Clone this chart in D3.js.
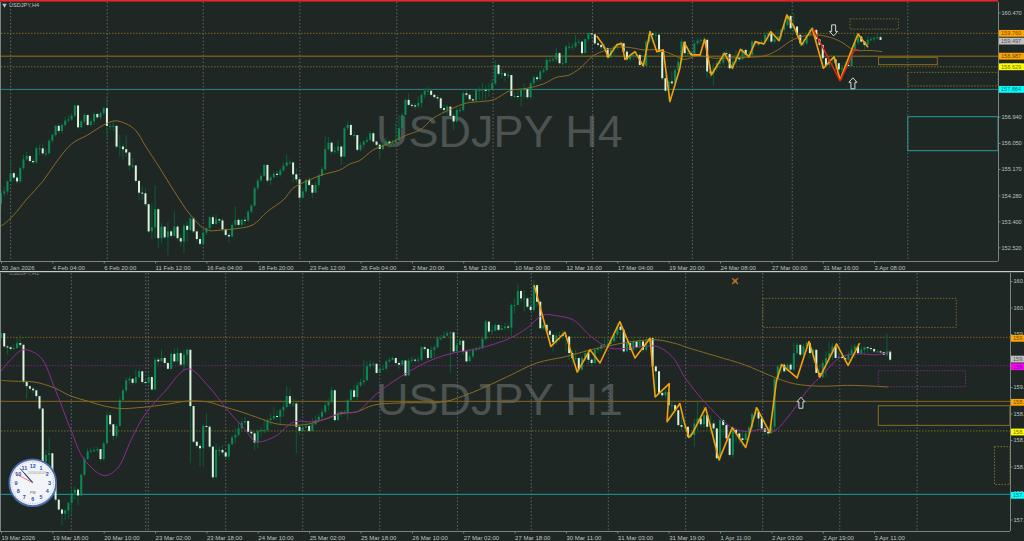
<!DOCTYPE html>
<html><head><meta charset="utf-8">
<script src="https://cdn.jsdelivr.net/npm/d3@7/dist/d3.min.js"></script>
<style>html,body{margin:0;padding:0;background:#1f2725;overflow:hidden}svg{display:block}text{font-family:"Liberation Sans",Arial,sans-serif}</style>
</head><body><svg id="c" width="1024" height="541"></svg>
<script>
// ---------- H4 panel ----------
const h4Open0 = 154.0;
const h4Close = [154.35,154.41,154.75,155.03,154.88,154.75,155.20,155.50,155.61,155.44,155.40,155.87,155.87,155.70,155.70,156.13,156.32,156.63,156.46,156.66,156.81,156.85,156.97,157.32,156.58,156.78,157.00,156.66,156.78,157.03,156.92,157.06,157.23,156.63,156.63,156.63,155.93,155.93,155.84,155.73,155.29,155.29,154.77,154.37,154.35,153.98,153.06,153.20,153.81,152.83,153.22,152.86,153.06,152.91,153.22,152.83,152.72,153.25,153.11,153.50,153.06,152.80,152.64,153.02,153.17,153.54,153.31,153.47,153.43,153.13,152.94,152.89,153.28,153.45,153.28,153.45,153.43,153.73,153.93,154.52,154.78,154.94,155.31,154.78,154.89,155.01,154.97,155.12,155.28,155.39,155.39,154.99,154.82,154.20,154.41,154.80,154.63,154.37,154.63,154.95,155.16,155.84,156.06,155.76,155.79,155.93,155.59,156.55,156.66,156.32,156.32,155.82,155.99,156.10,156.15,156.38,156.10,155.99,155.85,155.99,156.10,156.04,156.06,156.15,156.55,157.00,157.51,157.34,157.32,157.30,157.40,157.68,157.82,157.82,157.68,157.60,157.56,157.23,157.17,157.28,156.97,156.78,157.17,157.17,157.73,157.68,157.53,157.49,157.85,157.85,157.85,157.82,157.87,158.07,158.69,158.39,158.41,158.32,158.35,157.64,157.64,157.62,157.85,157.87,157.60,158.07,158.27,158.21,158.47,158.52,158.86,158.86,158.88,159.09,158.75,158.75,159.31,159.31,159.31,159.45,159.48,159.09,159.56,159.76,159.73,159.42,159.37,159.29,159.26,158.95,159.20,159.31,159.37,159.42,159.14,158.88,159.03,159.03,159.03,158.69,158.66,159.48,159.76,159.71,159.71,159.14,158.24,157.82,158.13,158.07,158.52,158.80,159.48,159.09,159.09,159.03,159.42,159.51,159.54,159.54,158.47,158.41,158.58,158.75,158.77,159.09,159.06,158.58,158.80,158.95,158.88,159.20,159.03,159.03,159.48,159.42,159.40,159.48,159.71,159.76,159.48,159.56,159.65,159.88,160.04,160.35,159.93,159.99,159.71,159.42,159.42,159.71,159.88,159.88,159.56,159.37,158.92,158.69,158.86,158.88,158.75,158.54,158.58,158.69,158.66,159.20,159.45,159.65,159.48,159.37,159.54,159.56,159.60,159.63,159.54];
const h4High = [154.46,154.58,154.80,155.48,155.08,154.97,155.25,155.68,155.76,155.65,155.50,155.93,155.99,156.04,155.87,156.18,156.38,156.66,156.70,156.72,156.94,157.00,157.06,157.34,157.34,156.83,157.06,156.94,156.89,157.08,157.08,157.11,157.26,157.54,156.74,156.78,156.63,156.32,156.04,156.32,155.76,155.54,155.29,154.80,154.58,154.52,154.01,154.01,154.63,153.84,153.34,153.22,153.39,153.11,153.73,153.28,152.94,153.34,153.39,153.56,153.56,153.11,152.89,153.11,153.22,153.58,153.62,153.62,153.50,153.50,153.17,153.00,153.34,153.90,153.50,153.50,153.56,153.79,153.99,154.58,154.86,155.01,155.34,155.31,154.97,155.08,155.12,155.20,155.39,155.65,155.50,155.42,155.20,154.86,154.52,154.86,154.91,154.69,154.75,155.01,155.25,156.29,156.25,156.10,155.93,156.15,155.93,156.61,156.78,156.70,156.44,156.32,156.10,156.15,156.27,156.44,156.44,156.04,156.04,156.10,156.21,156.15,156.15,156.72,157.00,157.06,157.56,157.73,157.40,157.40,157.62,157.73,157.90,157.96,157.90,157.73,157.68,157.62,157.34,157.34,157.30,157.06,157.23,157.26,157.79,157.85,157.73,157.56,157.90,157.94,158.07,157.98,158.07,158.24,158.86,158.72,158.58,158.47,158.47,158.35,157.76,157.85,157.90,158.07,157.90,158.13,158.32,158.35,158.52,158.58,158.92,158.97,159.03,159.26,159.14,159.03,159.37,159.45,159.42,159.71,159.56,159.51,159.59,159.79,159.76,159.54,159.48,159.42,159.42,159.31,159.26,159.37,159.45,159.48,159.45,159.20,159.09,159.14,159.14,159.09,158.86,159.54,159.85,159.82,159.82,159.76,159.20,158.35,158.18,158.47,158.58,158.92,159.59,159.48,159.20,159.22,159.54,159.59,159.59,159.63,159.59,158.69,158.75,158.86,158.97,159.14,159.20,159.14,158.88,159.20,159.03,159.26,159.22,159.20,159.54,159.51,159.48,159.54,159.82,159.85,159.76,159.65,159.88,159.93,160.16,160.42,160.38,160.44,159.99,159.76,159.59,159.76,159.97,159.99,159.88,159.59,159.37,158.97,158.95,159.03,159.03,158.75,158.69,158.80,158.86,159.26,159.71,159.76,159.67,159.51,159.65,159.65,159.67,159.76,159.71];
const h4Low = [153.79,154.24,154.30,154.75,154.75,154.67,154.69,155.14,155.46,155.37,155.34,155.34,155.65,155.61,155.59,155.65,156.04,156.27,156.40,156.38,156.61,156.74,156.81,156.92,156.53,156.55,156.70,156.61,156.61,156.66,156.85,156.85,157.00,156.21,156.49,156.44,155.87,155.59,155.48,155.59,155.14,155.20,154.71,154.13,154.13,153.90,153.00,152.80,152.83,152.49,152.66,152.80,152.26,152.83,152.86,152.75,152.55,152.32,152.72,153.06,153.00,152.72,152.57,152.57,152.94,153.11,153.25,153.28,153.34,153.06,152.86,152.68,152.86,153.22,153.22,153.25,153.28,153.39,153.67,153.90,154.46,154.75,154.91,154.71,154.63,154.86,154.91,154.91,155.08,155.25,155.31,154.71,154.69,154.01,154.18,154.35,154.58,154.18,154.35,154.55,154.91,155.12,155.79,155.68,155.68,155.70,155.31,155.59,156.49,156.27,156.21,155.76,155.76,155.87,156.04,156.10,156.04,155.93,155.50,155.82,155.93,155.87,155.93,155.93,156.10,156.49,157.00,157.30,157.23,157.19,157.23,157.23,157.56,157.68,157.62,157.53,157.45,157.17,157.06,157.00,156.92,156.47,156.72,157.08,157.11,157.60,157.45,157.40,157.45,157.51,157.51,157.51,157.62,157.87,158.01,158.32,158.24,158.13,158.24,157.56,157.56,157.51,157.28,157.56,157.53,157.53,158.01,158.13,158.16,158.41,158.47,158.75,158.80,158.80,158.69,158.69,158.75,159.20,159.20,159.26,159.37,159.03,159.09,159.48,159.59,159.37,159.31,159.20,159.14,158.88,158.92,158.97,159.20,159.31,159.09,158.80,158.80,158.86,158.92,158.63,158.63,158.63,159.42,159.42,159.48,159.03,158.18,157.76,157.45,158.01,158.01,158.47,158.75,159.03,158.97,158.97,159.03,159.37,159.42,159.42,158.24,158.24,158.01,158.47,158.58,158.69,158.92,158.52,158.52,158.69,158.80,158.86,158.97,158.95,158.97,159.31,159.31,159.37,159.42,159.48,159.42,159.42,159.48,159.48,159.82,159.99,159.88,159.76,159.65,159.31,159.31,159.37,159.65,159.76,159.48,159.31,158.58,158.58,158.63,158.63,158.47,158.32,158.18,158.47,158.58,158.63,159.14,159.37,159.42,159.22,159.31,159.48,159.48,159.54,159.52];
const h4MaIdx = [0,1,4,8,13,17,22,27,32,35.5,39,42,45,49.5,54,59,64,69,74.5,78.5,83,88,91,95,100,105.6,108.7,111.8,116,121,126.4,130.5,134.7,140,145,149,153.4,158.6,163.8,169,173,177,180.4,184.5,188.7,192,196,200,205,209.5,212.8,217,222,225,232.5,238,242,247,253,257.4,261.6,265.7,271,274.5];
const h4MaVal = [153.25,153.31,153.62,154.15,154.75,155.37,156.02,156.32,156.66,156.80,156.70,156.47,155.95,155.20,154.41,153.62,153.11,153.11,153.17,153.28,153.73,154.13,154.52,154.75,154.97,155.14,155.34,155.46,155.82,156.04,156.32,156.49,156.89,157.19,157.40,157.45,157.51,157.82,157.90,158.05,158.27,158.35,158.58,159.00,159.20,159.29,159.28,159.20,159.20,159.03,158.88,159.00,158.92,158.92,158.95,159.00,159.20,159.56,159.71,159.65,159.48,159.20,159.18,159.14];
const h4ZigIdx = [185.6,187.6,189.2,191.8,193.4,194.4,197.5,200.1,202.2,204.3,206.3,208.4,211.5,212.8,215,217.8,219.2,221.3,225.4,227.8,230.4,233,235,237.7,239.8,242.4,244.8,247,249.4,252.7,256.2,259.5,261.4,265.2,267,270.1];
const h4ZigVal = [159.67,159.37,158.95,159.37,159.42,158.88,159.14,158.66,159.82,159.14,159.20,157.45,158.58,159.45,159.03,159.03,159.56,158.35,159.09,158.58,159.22,158.97,159.48,159.40,159.82,159.51,160.38,159.99,159.37,159.93,158.58,158.97,158.18,159.26,159.74,159.29];
const h4RedIdx = [253,256.4,261.4,264.2,265.8,267];
const h4RedVal = [159.90,159.20,158.15,158.80,159.20,159.20];
const h4Seps = [3,33.1,63,93.1,123.3,153.3,184.3,215.4,246.5,282.5];
const h4Dates = ["30 Jan 2026","4 Feb 04:00","6 Feb 20:00","11 Feb 12:00","16 Feb 04:00","18 Feb 20:00","23 Feb 12:00","26 Feb 04:00","2 Mar 20:00","5 Mar 12:00","10 Mar 00:00","12 Mar 16:00","17 Mar 04:00","19 Mar 20:00","24 Mar 08:00","27 Mar 00:00","31 Mar 16:00","3 Apr 08:00"];
const h4Ticks = [160.47,158.70,156.94,156.05,155.17,154.28,153.40,152.52];

// ---------- H1 panel ----------
const h1Open0 = 159.75;
const h1Close = [159.81,159.65,159.64,159.62,159.63,159.69,159.67,159.22,159.17,159.14,159.12,159.05,158.90,158.26,158.34,158.36,158.00,157.80,157.68,157.63,157.67,157.76,157.88,157.92,157.85,158.10,158.29,158.38,158.39,158.40,158.41,158.29,158.48,158.82,158.71,158.57,158.69,159.00,159.12,159.24,159.26,159.21,159.28,159.35,159.22,159.21,159.28,159.13,159.49,159.47,159.51,159.45,159.38,159.56,159.47,159.57,159.43,159.55,159.61,158.93,158.50,158.45,158.42,158.69,158.68,158.44,158.07,158.40,158.40,158.37,158.32,158.47,158.55,158.58,158.66,158.73,158.75,158.62,158.60,158.49,158.63,158.64,158.64,158.76,158.78,158.81,158.80,158.88,158.92,159.05,158.96,158.96,158.68,158.63,158.67,158.69,158.63,158.71,158.76,158.80,158.86,158.94,158.98,159.12,158.76,158.85,158.84,158.85,159.00,159.12,159.04,159.18,159.22,159.24,159.41,159.44,159.44,159.33,159.38,159.38,159.47,159.49,159.51,159.45,159.43,159.48,159.30,159.48,159.49,159.48,159.49,159.64,159.62,159.51,159.61,159.64,159.75,159.75,159.78,159.81,159.82,159.59,159.67,159.72,159.59,159.47,159.53,159.61,159.62,159.63,159.74,159.95,159.83,159.84,159.91,159.85,159.87,159.89,159.88,160.15,160.15,160.32,160.23,160.23,160.13,160.09,160.39,160.19,159.87,159.91,159.84,159.79,159.70,159.78,159.79,159.78,159.77,159.57,159.51,159.51,159.37,159.51,159.57,159.49,159.45,159.61,159.62,159.67,159.68,159.68,159.71,159.79,159.89,159.85,159.59,159.69,159.61,159.71,159.64,159.71,159.61,159.71,159.75,159.41,159.35,159.09,159.06,159.10,158.94,158.94,158.88,158.70,158.68,158.68,158.56,158.58,158.72,158.78,158.71,158.82,158.68,158.72,158.66,158.30,158.76,158.70,158.54,158.34,158.64,158.60,158.54,158.52,158.60,158.67,158.83,158.86,158.78,158.66,158.62,158.60,158.68,159.26,159.41,159.43,159.35,159.43,159.37,159.57,159.67,159.55,159.65,159.69,159.57,159.61,159.33,159.28,159.45,159.51,159.57,159.65,159.51,159.53,159.51,159.49,159.55,159.61,159.65,159.57,159.61,159.64,159.63,159.62,159.59,159.59,159.58,159.55,159.59,159.49];
const h1High = [159.85,159.77,159.67,159.65,159.67,159.75,159.79,159.67,159.24,159.18,159.16,159.13,159.05,158.90,158.40,158.56,158.36,158.00,157.81,157.69,157.69,157.77,157.96,157.96,157.94,158.12,158.32,158.42,158.42,158.44,158.44,158.40,158.50,158.86,158.86,158.71,158.72,159.04,159.14,159.28,159.29,159.26,159.37,159.37,159.35,159.26,159.33,159.29,159.52,159.52,159.61,159.53,159.47,159.59,159.63,159.64,159.59,159.61,159.63,159.62,158.92,158.50,158.48,158.72,158.84,158.70,158.44,158.48,158.44,158.46,158.38,158.48,158.58,158.66,158.74,158.76,158.80,158.76,158.65,158.62,158.65,158.68,158.78,158.78,158.84,158.92,158.88,158.90,158.98,159.17,159.14,159.02,158.98,158.70,158.72,158.74,158.71,158.78,158.82,158.84,158.90,158.98,159.02,159.16,159.14,158.88,158.88,158.88,159.02,159.14,159.18,159.22,159.26,159.49,159.47,159.49,159.47,159.45,159.43,159.43,159.49,159.52,159.53,159.52,159.47,159.49,159.49,159.51,159.53,159.51,159.53,159.65,159.67,159.63,159.65,159.67,159.78,159.79,159.83,159.84,159.83,159.81,159.73,159.75,159.72,159.61,159.61,159.63,159.65,159.65,159.75,159.97,159.95,159.91,159.93,159.91,159.91,159.93,159.93,160.17,160.23,160.40,160.33,160.33,160.25,160.25,160.45,160.41,160.21,160.01,159.93,159.85,159.81,159.81,159.83,159.85,159.83,159.77,159.61,159.61,159.52,159.53,159.61,159.61,159.51,159.63,159.65,159.69,159.75,159.77,159.75,159.83,159.93,159.93,159.86,159.75,159.73,159.75,159.71,159.77,159.73,159.75,159.77,159.73,159.43,159.35,159.12,159.14,159.18,158.98,158.96,158.86,158.80,158.80,158.68,158.62,158.78,158.98,158.82,158.94,158.76,158.82,158.76,158.66,158.78,158.78,158.72,158.52,158.66,158.66,158.64,158.64,158.64,158.70,158.86,158.92,158.89,158.80,158.70,158.68,158.72,159.28,159.43,159.45,159.45,159.45,159.45,159.70,159.70,159.67,159.68,159.71,159.71,159.63,159.61,159.43,159.49,159.59,159.71,159.69,159.68,159.59,159.57,159.55,159.59,159.67,159.68,159.69,159.65,159.65,159.65,159.65,159.62,159.61,159.61,159.59,159.81,159.61];
const h1Low = [159.77,159.64,159.55,159.60,159.61,159.62,159.63,159.20,159.02,159.12,159.08,159.02,158.88,158.22,158.20,158.12,157.96,157.77,157.67,157.49,157.55,157.57,157.61,157.80,157.73,157.84,158.08,158.28,158.36,158.37,158.37,158.26,158.27,158.47,158.69,158.52,158.54,158.68,158.98,159.09,159.20,159.18,159.20,159.26,159.20,159.20,159.20,159.12,159.12,159.43,159.47,159.43,159.37,159.37,159.45,159.45,159.41,159.35,159.43,158.24,158.48,158.42,158.20,158.20,158.66,158.42,158.04,158.06,158.32,158.34,158.28,158.28,158.46,158.48,158.56,158.64,158.70,158.60,158.56,158.40,158.42,158.56,158.60,158.62,158.70,158.76,158.76,158.70,158.80,158.90,158.92,158.92,158.36,158.58,158.62,158.65,158.61,158.62,158.70,158.74,158.78,158.84,158.88,158.96,158.74,158.76,158.80,158.83,158.76,158.98,159.02,159.00,159.16,159.18,159.24,159.38,159.40,159.32,159.33,159.37,159.37,159.45,159.48,159.43,159.38,159.41,159.28,159.30,159.45,159.45,159.45,159.47,159.59,159.49,159.52,159.52,159.63,159.72,159.75,159.78,159.33,159.57,159.61,159.68,159.55,159.45,159.49,159.51,159.59,159.60,159.61,159.72,159.81,159.79,159.83,159.83,159.84,159.85,159.85,159.77,160.05,160.15,160.19,160.07,160.11,160.07,160.07,160.13,159.86,159.85,159.82,159.65,159.59,159.67,159.71,159.75,159.59,159.49,159.43,159.48,159.33,159.35,159.47,159.43,159.41,159.43,159.57,159.59,159.61,159.63,159.65,159.70,159.77,159.73,159.57,159.59,159.57,159.59,159.61,159.63,159.57,159.59,159.69,159.37,159.10,159.06,159.04,159.02,158.90,158.84,158.80,158.68,158.64,158.64,158.54,158.54,158.44,158.60,158.68,158.66,158.64,158.60,158.48,158.28,158.26,158.56,158.52,158.32,158.30,158.50,158.48,158.44,158.52,158.50,158.64,158.80,158.68,158.64,158.58,158.56,158.60,158.62,159.22,159.33,159.33,159.37,159.35,159.35,159.55,159.53,159.53,159.63,159.51,159.45,159.33,159.28,159.26,159.28,159.43,159.49,159.55,159.49,159.49,159.47,159.47,159.47,159.51,159.55,159.55,159.55,159.57,159.59,159.57,159.57,159.57,159.56,159.52,159.47,159.48];
const h1GoldIdx = [0,4,10.4,16.6,21.8,27,32.2,37.4,42.6,47.8,53,58.2,64.4,69.6,74.8,80,85.2,90.3,95.5,100.7,105.9,110.8,116,126.4,137.8,147.2,157.5,166.9,176.2,183.8,192.2,199,204.3,211.5,212.8,223,231.5,240.8,247,255.4,263.7,272,276.4];
const h1GoldVal = [159.24,159.23,159.22,159.15,159.05,158.99,158.93,158.90,158.91,158.93,158.96,158.99,158.98,158.92,158.86,158.79,158.72,158.70,158.71,158.77,158.84,158.86,158.94,158.97,158.98,159.10,159.28,159.45,159.53,159.61,159.68,159.72,159.73,159.67,159.65,159.53,159.43,159.28,159.20,159.17,159.18,159.17,159.16];
const h1PurpleIdx = [0,3,7,12.3,16.6,21.8,26,32.2,36.3,40.5,44.7,50.9,58.2,64.4,70.6,75.8,79.4,85.2,91.4,96.6,101.8,105.9,110.8,117.1,124.3,133.7,140.9,149.2,158.6,163.8,168.9,173.1,178.3,183.8,189.7,196,204.3,209.5,211.5,212.8,216.9,222.1,227.3,232.5,236.7,240.8,246,251.2,256.4,261.6,266.9,273.1,277.3];
const h1PurpleVal = [159.35,159.49,159.61,159.52,159.16,158.64,158.28,158.09,158.18,158.52,158.82,159.10,159.38,159.18,158.88,158.66,158.50,158.56,158.74,158.74,158.78,158.85,158.86,159.08,159.28,159.48,159.57,159.63,159.75,159.87,160.03,160.02,159.97,159.77,159.63,159.63,159.65,159.51,159.38,159.29,159.08,158.86,158.68,158.62,158.65,158.63,158.84,159.12,159.33,159.52,159.56,159.55,159.59];
const h1ZigIdx = [166.1,171.3,175.7,179.5,183.5,186.6,192.8,197.5,202.2,203.8,208.2,207.5,211.5,212.8,214.3,215.4,219.5,223.7,227.8,232,235.4,239.5,241.6,243.2,248,251.7,255.1,260.3,263.9,267.5];
const h1ZigVal = [160.39,159.65,159.82,159.34,159.61,159.45,159.95,159.51,159.75,159.04,159.20,158.74,158.96,158.74,158.55,158.60,158.91,158.28,158.67,158.43,158.91,158.61,159.24,159.43,159.27,159.71,159.28,159.68,159.42,159.69];
const h1Seps = [21.9,45.1,45.9,70,94,118,142.2,165.2,189.2,213.3,237.3,261.3,285.4];
const h1Dates = ["19 Mar 2026","19 Mar 18:00","20 Mar 10:00","23 Mar 02:00","23 Mar 18:00","24 Mar 10:00","25 Mar 02:00","25 Mar 18:00","26 Mar 10:00","27 Mar 02:00","27 Mar 18:00","30 Mar 11:00","31 Mar 03:00","31 Mar 19:00","1 Apr 11:00","2 Apr 03:00","2 Apr 19:00","3 Apr 11:00"];
const h1Ticks = [160.44,160.12,159.80,159.16,158.84,158.52,158.20,157.88,157.56];

// ---------- shared levels ----------
const levelDotted1 = 159.760, levelSolid = 158.987, levelDotted2 = 158.629, levelTeal = 157.864, lastPrice = 159.497, levelPurple = 159.417;

// zones: [startIdx, endIdx, highPrice, lowPrice]
const h4Zones = [
  {r:[264.5,279.6,160.25,159.90], c:"#7a6420", d:"1.5,1.5", w:1},
  {r:[273.4,291.7,158.95,158.70], c:"#8a6c20", d:null, w:1},
  {r:[282.5,310.6,158.44,157.98], c:"#7a6c20", d:"1.5,1.5", w:1},
  {r:[282.5,310.6,156.94,155.79], c:"#2a9c98", d:null, w:1}];
const h1Zones = [
  {r:[237.3,297.6,160.23,159.88], c:"#7a6420", d:"1.5,1.5", w:1},
  {r:[273.3,300.5,159.357,159.164], c:"#7a2a80", d:"1.5,1.5", w:1},
  {r:[273.3,314.3,158.934,158.697], c:"#8a6c20", d:null, w:1},
  {r:[309.5,314.3,158.44,157.984], c:"#7a7420", d:"1.5,1.5", w:1}];

// ---------- drawing ----------
const svg = d3.select("#c");
const BG="#1f2725", UP="#0b8a58", DN="#dcf3dc", WICK="#0c5c34", AX="#7c8482", TXT="#bcc2c0";
svg.append("rect").attr("width",1024).attr("height",541).attr("fill",BG);
const defs = svg.append("defs");
function panel(o){
  const x = d3.scaleLinear().domain([0,310.6]).range([1,998]);
  const y = d3.scaleLinear().domain(o.yDom).range(o.yRange);
  const id="clip"+o.id;
  defs.append("clipPath").attr("id",id).append("rect").attr("x",1).attr("y",o.top).attr("width",o.right-1).attr("height",o.bottom-o.top);
  const g = svg.append("g");
  const p = g.append("g").attr("clip-path",`url(#${id})`);
  p.append("text").attr("x",376).attr("y",o.wmY).attr("fill","#4c5351").attr("font-size",45).text(o.wm);
  p.selectAll(".sep").data(o.seps).join("line").attr("x1",x).attr("x2",x).attr("y1",o.top).attr("y2",o.bottom)
    .attr("stroke","#70767a").attr("stroke-width",0.8).attr("stroke-dasharray","1.5,2");
  o.levels.forEach(l=>{
    p.append("line").attr("x1",1).attr("x2",o.right).attr("y1",y(l.v)).attr("y2",y(l.v))
      .attr("stroke",l.c).attr("stroke-width",l.w).attr("stroke-dasharray",l.d);
  });
  o.zones.forEach(z=>{
    const [a,b,hi,lo]=z.r;
    p.append("rect").attr("x",x(a)).attr("y",y(hi)).attr("width",x(b)-x(a)).attr("height",y(lo)-y(hi))
      .attr("fill","none").attr("stroke",z.c).attr("stroke-width",z.w).attr("stroke-dasharray",z.d);
  });
  const rows = o.close.map((c,i)=>({i,c,o:i?o.close[i-1]:o.open0,h:o.high[i],l:o.low[i]}));
  p.selectAll(".w").data(rows).join("line").attr("x1",d=>x(d.i)).attr("x2",d=>x(d.i))
    .attr("y1",d=>y(Math.max(d.h,d.o,d.c))).attr("y2",d=>y(Math.min(d.l,d.o,d.c))).attr("stroke",WICK).attr("stroke-width",1);
  p.selectAll(".b").data(rows).join("rect").attr("x",d=>x(d.i)-1).attr("width",2)
    .attr("y",d=>y(Math.max(d.o,d.c))).attr("height",d=>Math.max(1,Math.abs(y(d.o)-y(d.c))))
    .attr("fill",d=>d.c>=d.o?UP:DN);
  const ln = d3.line().x(d=>x(d[0])).y(d=>y(d[1]));
  const pair=(a,b)=>a.map((v,i)=>[v,b[i]]);
  o.curves.forEach(cv=>{
    p.append("path").attr("d",(cv.smooth?ln.curve(d3.curveCatmullRom):ln.curve(d3.curveLinear))(pair(cv.x,cv.y)))
      .attr("fill","none").attr("stroke",cv.c).attr("stroke-width",cv.w).attr("stroke-linejoin","round");
  });
  const arrow="M0,-5.5L4,-1L2,-1L2,5.5L-2,5.5L-2,-1L-4,-1Z";
  o.arrows.forEach(a=>{
    p.append("path").attr("d",arrow).attr("transform",`translate(${x(a.i)},${y(a.v)}) rotate(${a.down?180:0})`)
      .attr("fill",BG).attr("stroke","#d4d8d8").attr("stroke-width",1);
  });
  const xAxis = d3.axisBottom(x).tickValues(o.dates.map((d,i)=>i*16)).tickFormat((d,i)=>o.dates[i]).tickSize(2).tickPadding(2);
  const xg = g.append("g").attr("transform",`translate(0,${o.bottom+0.5})`).call(xAxis);
  xg.select(".domain").attr("d",`M0,0H${o.right}`).attr("stroke",AX);
  xg.selectAll("line").attr("stroke",AX);
  xg.selectAll("text").attr("text-anchor","start").attr("fill",TXT).attr("font-size",6).attr("y",4).attr("dy","0.71em");
  const yAxis = d3.axisRight(y).tickValues(o.ticks).tickFormat(d3.format(".3f")).tickSize(2).tickPadding(1);
  const yg = g.append("g").attr("transform",`translate(${o.right+0.5},0)`).call(yAxis);
  yg.select(".domain").attr("d",`M0,${o.top}V${o.bottom}`).attr("stroke",AX);
  yg.selectAll("line").attr("stroke",AX);
  yg.selectAll("text").attr("fill",TXT).attr("font-size",5.6);
  o.tags.forEach(t=>{
    const yy=y(t.v)+(t.dy||0);
    g.append("rect").attr("x",o.right+1).attr("y",yy-3.4).attr("width",26).attr("height",6.8).attr("fill",t.c);
    g.append("text").attr("x",o.right+3).attr("y",yy).attr("dy","0.35em").attr("font-size",5.6).attr("fill",t.t).text(t.v.toFixed(3));
  });
  if(o.titleMark) g.append("path").attr("d",d3.symbol(d3.symbolTriangle,9)()).attr("transform",`translate(4.5,${o.top+3}) rotate(180)`).attr("fill",TXT);
  p.append("text").attr("x",9).attr("y",o.titleY).attr("font-size",5.6).attr("fill",TXT).attr("opacity",o.titleOp).text(o.title);
  return {x,y,g,p};
}
const orange="#f5a10a";
const top4 = panel({id:"a",top:2,bottom:261,right:998,yDom:[160.47,152.52],yRange:[12.35,247.35],
  wm:"USDJPY H4",wmY:146.7,seps:h4Seps,title:"USDJPY,H4",titleY:7.2,titleOp:1,titleMark:true,
  levels:[{v:levelDotted1,c:"#7a6a20",w:1,d:"1.5,1.5"},{v:levelSolid,c:"#6e5a1c",w:1.5,d:null},{v:levelDotted2,c:"#74681e",w:1,d:"1.5,1.5"},{v:levelTeal,c:"#2f918c",w:0.9,d:null}],
  zones:h4Zones,close:h4Close,open0:h4Open0,high:h4High,low:h4Low,
  curves:[{x:h4MaIdx,y:h4MaVal,c:"#8a6b20",w:1,smooth:true},{x:h4ZigIdx,y:h4ZigVal,c:orange,w:1.6},{x:h4RedIdx,y:h4RedVal,c:"#e8201a",w:1.5}],
  arrows:[{i:259.4,v:159.86,down:true},{i:265.4,v:158.07,down:false}],
  dates:h4Dates,ticks:h4Ticks,
  tags:[{v:levelDotted1,c:"#ffa500",t:"#6b4a10"},{v:lastPrice,c:"#c0c0c0",t:"#555"},{v:levelSolid,c:"#ffa500",t:"#6b4a10"},{v:levelDotted2,c:"#ffff00",t:"#6a6a10"},{v:levelTeal,c:"#00ffff",t:"#126a6a"}]
});
const h1 = panel({id:"b",top:273,bottom:531,right:1010,yDom:[159.76,157.864],yRange:[337.33,494.33],
  wm:"USDJPY H1",wmY:415,seps:h1Seps,title:"USDJPY,H1",titleY:275.2,titleOp:0.6,titleMark:false,
  levels:[{v:levelDotted1,c:"#7a6420",w:1,d:"1.5,1.5"},{v:levelPurple,c:"#6e2a72",w:1,d:"1.5,1.5"},{v:levelSolid,c:"#85671e",w:1,d:null},{v:levelDotted2,c:"#74681e",w:1,d:"1.5,1.5"},{v:levelTeal,c:"#1f9c98",w:1,d:null}],
  zones:h1Zones,close:h1Close,open0:h1Open0,high:h1High,low:h1Low,
  curves:[{x:h1GoldIdx,y:h1GoldVal,c:"#8a6b20",w:1,smooth:true},{x:h1PurpleIdx,y:h1PurpleVal,c:"#8e2a90",w:1,smooth:true},{x:h1ZigIdx,y:h1ZigVal,c:orange,w:1.6}],
  arrows:[{i:249.2,v:158.97,down:false}],
  dates:h1Dates,ticks:h1Ticks,
  tags:[{v:levelDotted1,c:"#ffa500",t:"#6b4a10",dy:1},{v:lastPrice,c:"#c0c0c0",t:"#555"},{v:levelPurple,c:"#ff00ff",t:"#701070",dy:1},{v:levelSolid,c:"#ffa500",t:"#6b4a10",dy:1},{v:levelDotted2,c:"#ffff00",t:"#6a6a10",dy:1},{v:levelTeal,c:"#00ffff",t:"#126a6a",dy:1}]
});
svg.append("rect").attr("x",0).attr("y",0).attr("width",998).attr("height",1.6).attr("fill","#e2262a");
svg.append("rect").attr("x",0).attr("y",271).attr("width",1024).attr("height",1.2).attr("fill","#c6cac8");
svg.append("line").attr("x1",0.5).attr("x2",0.5).attr("y1",2).attr("y2",261).attr("stroke",AX);
svg.append("line").attr("x1",0.5).attr("x2",0.5).attr("y1",273).attr("y2",531).attr("stroke",AX);

// small star marker in the H1 panel
const starAt = {i:228.7, v:160.44};
const sx=h1.x(starAt.i), sy=h1.y(starAt.v);
svg.append("circle").attr("cx",sx).attr("cy",sy).attr("r",1.8).attr("fill","#a8651a");
svg.append("path").attr("d",d3.symbol(d3.symbolTimes,24)()).attr("transform",`translate(${sx},${sy})`).attr("stroke","#b8741c").attr("stroke-width",1.3).attr("fill","none");

// clock
const clockNums=[12,1,2,3,4,5,6,7,8,9,10,11];
const clockDate="2026/04/03", clockAmPm="PM";
const clock=svg.append("g").attr("transform","translate(32.7,482.7)");
clock.append("circle").attr("r",23.4).attr("fill","#f2f4f8").attr("stroke","#4a6cae").attr("stroke-width",1.8);
const ang=d3.scaleLinear().domain([0,60]).range([0,2*Math.PI]);
clock.selectAll(".m").data(d3.range(60)).join("line")
  .attr("x1",d=>Math.sin(ang(d))*(d%5?20.6:20)).attr("y1",d=>-Math.cos(ang(d))*(d%5?20.6:20))
  .attr("x2",d=>Math.sin(ang(d))*21.6).attr("y2",d=>-Math.cos(ang(d))*21.6).attr("stroke","#8a94a8").attr("stroke-width",0.5);
clock.selectAll(".n").data(clockNums).join("text")
  .attr("x",(d,i)=>Math.sin(ang(i*5))*16.8).attr("y",(d,i)=>-Math.cos(ang(i*5))*16.8).attr("dy","0.35em").attr("text-anchor","middle")
  .attr("font-size",5.4).attr("font-weight","bold").attr("fill","#2450b0").text(d=>d);
clock.append("text").attr("x",4).attr("y",-8.5).attr("text-anchor","middle").attr("font-size",3.6).attr("fill","#9a9a9a").text(clockDate);
clock.append("text").attr("x",0).attr("y",11.5).attr("text-anchor","middle").attr("font-size",3.6).attr("fill","#666").text(clockAmPm);
[[-8.4,-9.6,"#6a7488",1.2],[-12.7,-14.3,"#2a3a78",1],[-17.7,-9.3,"#e04050",0.7]].forEach(h=>{
  clock.append("line").attr("x2",h[0]).attr("y2",h[1]).attr("stroke",h[2]).attr("stroke-width",h[3]);
});
</script></body></html>
